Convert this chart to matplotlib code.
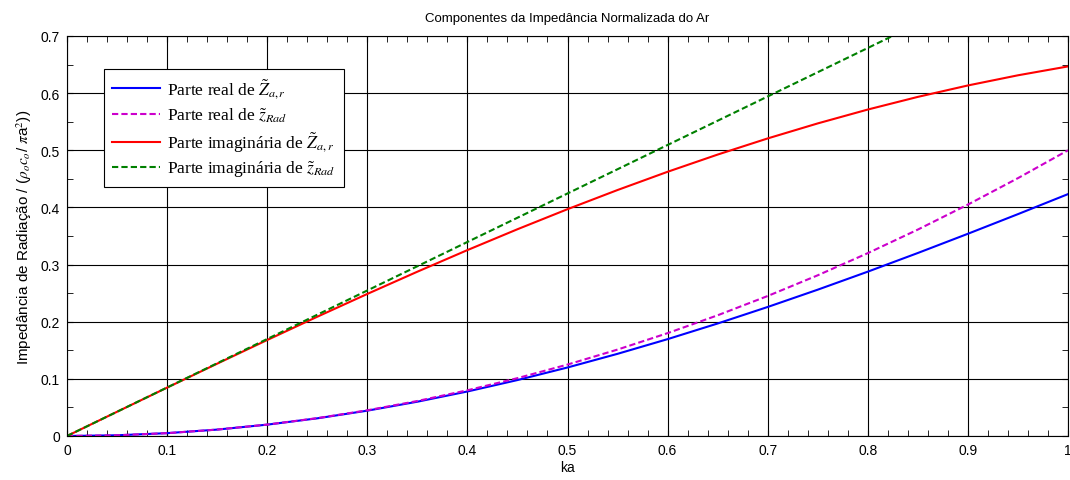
import numpy as np
import matplotlib
matplotlib.use("Agg")
import matplotlib.pyplot as plt
from matplotlib.ticker import MultipleLocator

# ka sampled every 0.05
ka = [0.00, 0.05, 0.10, 0.15, 0.20, 0.25, 0.30, 0.35, 0.40, 0.45, 0.50,
      0.55, 0.60, 0.65, 0.70, 0.75, 0.80, 0.85, 0.90, 0.95, 1.00]

# real part of Z_a,r (piston)
real_zar = [0.0, 0.00125, 0.00499, 0.01121, 0.01987, 0.03093, 0.04433, 0.06001,
            0.07790, 0.09789, 0.11990, 0.14381, 0.16950, 0.19688, 0.22580,
            0.25608, 0.28760, 0.32027, 0.35390, 0.38826, 0.42330]
# real part of z_Rad (low frequency approx.)
real_zrad = [0.0, 0.00125, 0.00500, 0.01125, 0.02000, 0.03125, 0.04500, 0.06125,
             0.08000, 0.10125, 0.12500, 0.15125, 0.18000, 0.21125, 0.24500,
             0.28125, 0.32000, 0.36125, 0.40500, 0.45125, 0.50000]
# imaginary part of Z_a,r
imag_zar = [0.0, 0.04241, 0.08466, 0.12656, 0.16796, 0.20870, 0.24860, 0.28752,
            0.32531, 0.36182, 0.39691, 0.43047, 0.46237, 0.49250, 0.52076,
            0.54705, 0.57131, 0.59346, 0.61345, 0.63123, 0.64677]
# imaginary part of z_Rad
imag_zrad = [0.0, 0.04244, 0.08488, 0.12732, 0.16977, 0.21221, 0.25465, 0.29709,
             0.33953, 0.38197, 0.42441, 0.46685, 0.50930, 0.55174, 0.59418,
             0.63662, 0.67906, 0.72150, 0.76394, 0.80638, 0.84883]

labels = [r"Parte real de $\tilde{Z}_{a,r}$",
          r"Parte real de $\tilde{z}_{Rad}$",
          r"Parte imaginária de $\tilde{Z}_{a,r}$",
          r"Parte imaginária de $\tilde{z}_{Rad}$"]

xticks = [0.0, 0.1, 0.2, 0.3, 0.4, 0.5, 0.6, 0.7, 0.8, 0.9, 1.0]
xtick_labels = ["0", "0.1", "0.2", "0.3", "0.4", "0.5", "0.6", "0.7", "0.8", "0.9", "1"]
yticks = [0.0, 0.1, 0.2, 0.3, 0.4, 0.5, 0.6, 0.7]
ytick_labels = ["0", "0.1", "0.2", "0.3", "0.4", "0.5", "0.6", "0.7"]

plt.rcParams["font.family"] = ["Liberation Sans", "DejaVu Sans"]
plt.rcParams["mathtext.fontset"] = "stix"

fig = plt.figure(figsize=(10.70, 4.81), dpi=100)
ax = fig.add_axes([67 / 1070, 44 / 481, 1001 / 1070, 400 / 481])

ax.plot(ka, real_zar, color="#0000ff", lw=1.5, label=labels[0])
ax.plot(ka, real_zrad, color="#cc00cc", lw=1.5, ls=(0, (3, 1.5)), label=labels[1])
ax.plot(ka, imag_zar, color="#ff0000", lw=1.5, label=labels[2])
ax.plot(ka, imag_zrad, color="#008000", lw=1.5, ls=(0, (3, 1.5)), label=labels[3])

ax.set_xlim(0, 1)
ax.set_ylim(0, 0.7)
ax.set_xticks(xticks, xtick_labels)
ax.set_yticks(yticks, ytick_labels)
ax.xaxis.set_minor_locator(MultipleLocator(0.02))
ax.yaxis.set_minor_locator(MultipleLocator(0.05))
ax.tick_params(which="both", direction="in", top=True, right=True,
               labelsize=10, color="black")
ax.tick_params(which="major", length=4, pad=5)
ax.tick_params(which="minor", length=4)
ax.grid(True, which="major", color="black", lw=0.8, ls="-")
for s in ax.spines.values():
    s.set_linewidth(0.8)

ax.set_title("Componentes da Impedância Normalizada do Ar", fontsize=9.5, pad=11)
ax.set_xlabel("ka", fontsize=10, labelpad=2)
ax.set_ylabel(r"Impedância de Radiação / ($\rho_o c_o$/ $\pi$a$^2$))", fontsize=11, labelpad=5)

leg = ax.legend(loc="upper left", bbox_to_anchor=(0.037, 0.918),
                prop={"family": "Liberation Serif", "size": 12.5},
                frameon=True, fancybox=False, framealpha=1, edgecolor="black",
                handlelength=2.8, handletextpad=0.4, borderpad=0.45,
                labelspacing=0.3, borderaxespad=0)
leg.get_frame().set_linewidth(0.8)

fig.savefig("out.png", dpi=100)
